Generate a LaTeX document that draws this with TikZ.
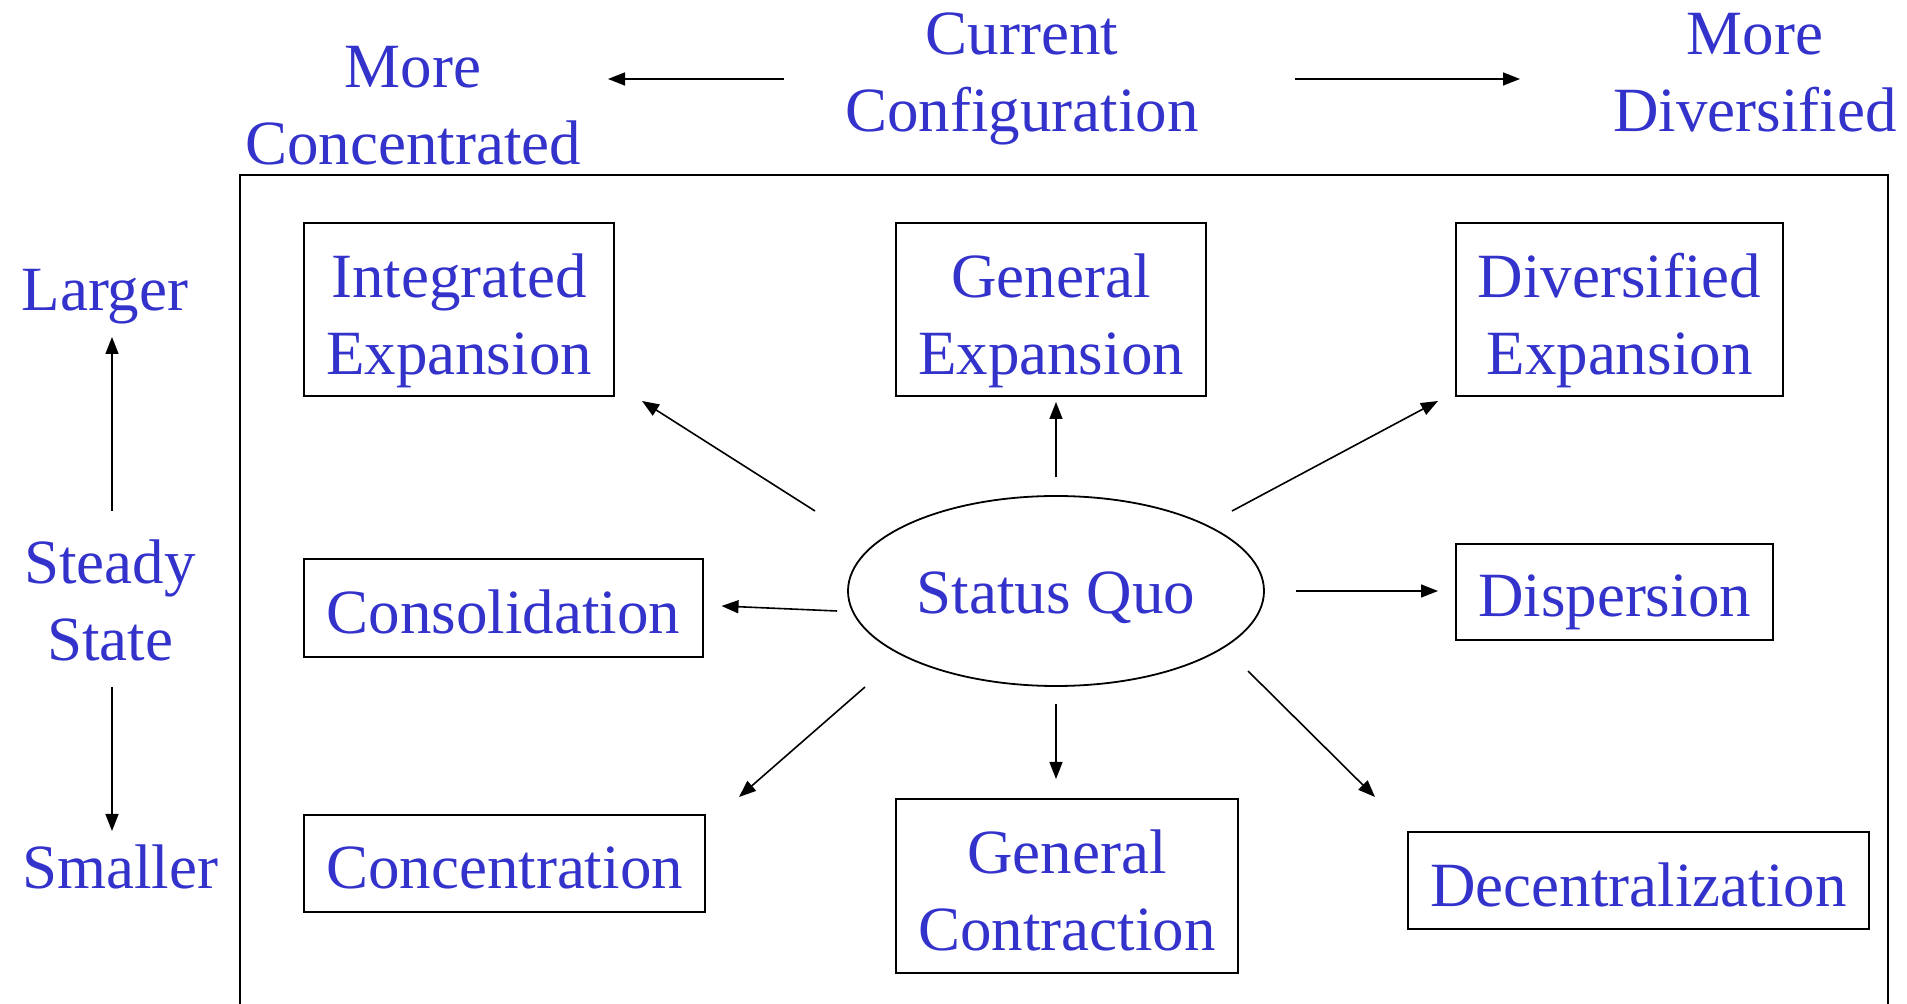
\documentclass[tikz,border=0pt]{standalone}
\usepackage{fontspec}
\setmainfont{Liberation Serif}
\usetikzlibrary{shapes.geometric,arrows.meta,calc}
\definecolor{txtblue}{RGB}{51,51,204}
\tikzset{
  lbl/.style={text=txtblue, align=center, inner sep=0pt, font=\fontsize{31.5}{38.5}\selectfont},
  box/.style={draw=black, line width=1pt, inner sep=0pt},
  arr/.style={line width=0.8pt, -{Triangle[length=8.5pt,width=6.5pt]}},
}
\begin{document}
\begin{tikzpicture}[x=0.5pt,y=-0.5pt]
\useasboundingbox (0,0) rectangle (1907,1004);
% outer frame (open at bottom)
\draw[line width=1pt] (240,1010) -- (240,175) -- (1888,175) -- (1888,1010);

% top labels
\node[lbl] (mc) at (413,106) {More\\Concentrated};
\node[lbl] (cc) at (1022,79) {Current\\Configuration};
\node[lbl] (md) at (1755,73) {More\\Diversified};

% left labels
\node[lbl] (lg) at (105,297) {Larger};
\node[lbl] (ss) at (110,600) {Steady\\State};
\node[lbl] (sm) at (120,867) {Smaller};

% boxes
\node[box, minimum width=155pt, minimum height=86.5pt] (ie) at (459,309.5) {};
\node[lbl] (ie-t) at ($(ie.center)+(0,11)$) {Integrated\\Expansion};
\node[box, minimum width=155pt, minimum height=86.5pt] (ge) at (1051,309.5) {};
\node[lbl] (ge-t) at ($(ge.center)+(0,11)$) {General\\Expansion};
\node[box, minimum width=163.5pt, minimum height=86.5pt] (de) at (1619.5,309.5) {};
\node[lbl] (de-t) at ($(de.center)+(0,11)$) {Diversified\\Expansion};
\node[box, minimum width=199.5pt, minimum height=49pt] (cons) at (503.5,608) {};
\node[lbl] (cons-t) at ($(cons.center)+(0,4)$) {Consolidation};
\node[box, line width=0.9pt, ellipse, minimum width=208pt, minimum height=95pt] (sq) at (1056,591) {};
\node[lbl] (sq-t) at ($(sq.center)+(0,7)$) {Status Quo};
\node[box, minimum width=158.5pt, minimum height=48pt] (disp) at (1614.5,592) {};
\node[lbl] (disp-t) at ($(disp.center)+(0,10)$) {Dispersion};
\node[box, minimum width=200.5pt, minimum height=48.5pt] (conc) at (504.5,863.5) {};
\node[lbl] (conc-t) at ($(conc.center)+(0,4)$) {Concentration};
\node[box, minimum width=171pt, minimum height=87pt] (gc) at (1067,886) {};
\node[lbl] (gc-t) at ($(gc.center)+(0,4)$) {General\\Contraction};
\node[box, minimum width=230.5pt, minimum height=48.5pt] (dec) at (1638.5,880.5) {};
\node[lbl] (dec-t) at ($(dec.center)+(0,4)$) {Decentralization};

% top arrows
\draw[arr] ($(cc.center)+(-238,0)$) -- ($(mc.center)+(195,-27)$);
\draw[arr] ($(cc.center)+(273,0)$) -- ($(md.center)+(-235,6)$);

% left arrows
\draw[arr] ($(ss.center)+(2,-89)$) -- ($(lg.center)+(7,40)$);
\draw[arr] ($(ss.center)+(2,87)$) -- ($(sm.center)+(-8,-36)$);

% radiating arrows
\draw[arr] ($(sq.center)+(-241,-80)$) -- ($(ie.south east)+(27,4)$);
\draw[arr] ($(sq.north)+(0,-18)$) -- ($(sq.north |- ge.south)+(0,5)$);
\draw[arr] ($(sq.center)+(176,-80)$) -- ($(de.south west)+(-17,4)$);
\draw[arr] ($(sq.west)+(-10,20)$) -- ($(cons.east)+(17.5,-2)$);
\draw[arr] ($(sq.east)+(31,0)$) -- ($(disp.west |- sq.east)+(-17,0)$);
\draw[arr] ($(sq.center)+(-191,96)$) -- ($(conc.north east)+(33,-17)$);
\draw[arr] ($(sq.south)+(0,17)$) -- ($(sq.south |- gc.north)+(0,-19)$);
\draw[arr] ($(sq.center)+(192,80)$) -- ($(dec.north west)+(-32,-34)$);
\end{tikzpicture}
\end{document}
